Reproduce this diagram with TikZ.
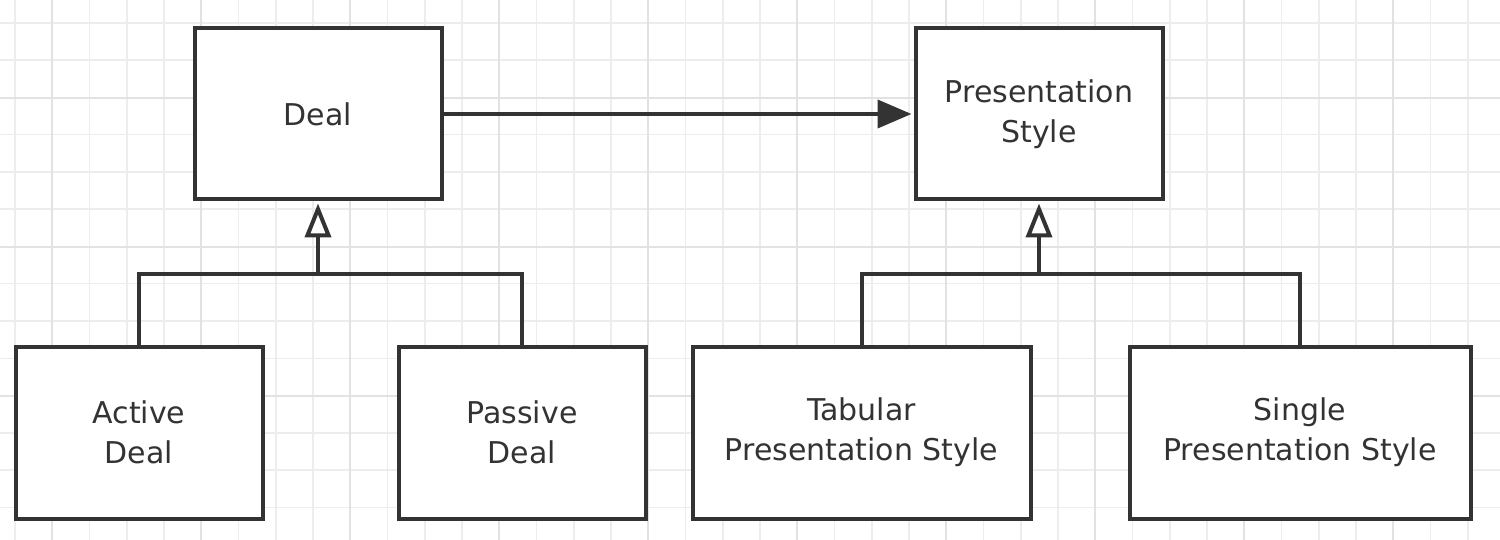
\documentclass[tikz,border=0pt]{standalone}
\usepackage{fontspec}
\setmainfont{DejaVu Sans}
\usetikzlibrary{arrows.meta}
\definecolor{ink}{HTML}{333333}
\definecolor{gridminor}{HTML}{EDEDED}
\definecolor{gridmajor}{HTML}{E2E2E2}
\tikzset{
  box/.style={draw=ink, line width=4pt, fill=white, inner sep=0pt, text=ink,
    align=center, font=\fontsize{30}{40}\selectfont},
  conn/.style={draw=ink, line width=4pt},
  inh/.style={conn, -{Triangle[open, length=34pt, width=26pt, fill=white]}, shorten >=2pt},
  assoc/.style={conn, -{Triangle[length=34pt, width=28pt]}, shorten >=2pt},
}
\begin{document}
\begin{tikzpicture}[x=1pt,y=-1pt]
\useasboundingbox (0,0) rectangle (1500,540);
\fill[white] (0,0) rectangle (1500,540);
% grid
\foreach \k in {0,...,39} {
  \draw[gridminor, line width=1.5pt] ({15+37.25*\k},0) -- ({15+37.25*\k},540);
}
\foreach \k in {0,...,14} {
  \draw[gridminor, line width=1.5pt] (0,{23+37.25*\k}) -- (1500,{23+37.25*\k});
}
\foreach \k in {0,...,9} {
  \draw[gridmajor, line width=1.5pt] ({52+149*\k},0) -- ({52+149*\k},540);
}
\foreach \k in {0,...,3} {
  \draw[gridmajor, line width=1.5pt] (0,{98+149*\k}) -- (1500,{98+149*\k});
}
% nodes
\node[box, minimum width=247pt, minimum height=171pt] (deal) at (318,114) {Deal};
\node[box, minimum width=247pt, minimum height=171pt] (ps) at (1039,114) {Presentation\\Style};
\node[box, minimum width=247pt, minimum height=172pt] (ad) at (139,432.5) {Active\\Deal};
\node[box, minimum width=247pt, minimum height=172pt] (pd) at (522,432.5) {Passive\\Deal};
\node[box, minimum width=338pt, minimum height=172pt] (tab) at (861.5,432.5) {Tabular\\Presentation Style};
\node[box, minimum width=341pt, minimum height=172pt] (sin) at (1300,432.5) {Single\\Presentation Style};
% connectors
\coordinate (j1) at (318,274);
\coordinate (j2) at (1039,274);
\draw[conn] (ad.north) |- (j1) -| (pd.north);
\draw[inh] (j1) -- (deal.south);
\draw[conn] (tab.north) |- (j2) -| (sin.north);
\draw[inh] (j2) -- (ps.south);
\draw[assoc] (deal.east) -- (ps.west);
\end{tikzpicture}
\end{document}
